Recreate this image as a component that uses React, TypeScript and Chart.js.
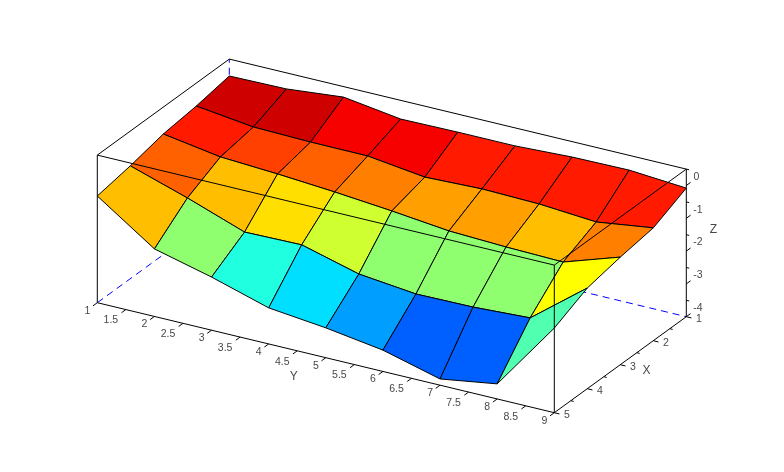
import React, { useEffect, useRef } from "react";
import { Chart, registerables } from "chart.js";

Chart.register(...registerables);

const xValues = [1, 2, 3, 4, 5];
const yValues = [1, 2, 3, 4, 5, 6, 7, 8, 9];

// surface heights, one array per X value, in Y order
const zAtX1 = [-0.015, 0.01, 0.18, -0.07, -0.05, -0.05, 0.03, 0.05, -0.08];
const zAtX2 = [-0.2, -0.42, -0.46, -0.465, -0.69, -0.63, -0.67, -0.8, -0.56];
const zAtX3 = [-0.32, -0.6, -0.7, -0.83, -0.99, -1.18, -1.25, -1.29, -0.72];
const zAtX4 = [-0.56, -1.12, -1.74, -1.71, -2.18, -2.37, -2.35, -2.26, -0.93];
const zAtX5 = [-0.747, -1.94, -2.38, -2.9, -3.09, -3.35, -3.81, -3.54, -1.42];
const zGrid = [zAtX1, zAtX2, zAtX3, zAtX4, zAtX5];

// colour-map index (1..64) of each face, one array per X interval
const cellsX1to2 = [59, 59, 56.5, 56.5, 54.4, 54.4, 54.4, 54.4];
const cellsX2to3 = [54.4, 52, 50, 48, 46, 46, 44, 48];
const cellsX3to4 = [50, 44, 42, 37, 33, 33, 33, 40];
const cellsX4to5 = [44, 33, 26, 22, 18, 14, 14, 29];
const cellGrid = [cellsX1to2, cellsX2to3, cellsX3to4, cellsX4to5];

const xTicks = [1, 2, 3, 4, 5];
const xMinorTicks = [1.5, 2.5, 3.5, 4.5];
const yTicks = [1, 1.5, 2, 2.5, 3, 3.5, 4, 4.5, 5, 5.5, 6, 6.5, 7, 7.5, 8, 8.5, 9];
const zTicks = [-4, -3, -2, -1, 0];
const zMinorTicks = [-3.5, -2.5, -1.5, -0.5, 0.5];

const X_MIN = 1, X_MAX = 5, Y_MIN = 1, Y_MAX = 9, Z_MIN = -4, Z_MAX = 0.5;

// orthographic view of the 3-D box onto the page
function project(x: number, y: number, z: number) {
  return {
    x: 97.3 + (y - 1) * 57.125 + (5 - x) * 33,
    y: 302.7 + (y - 1) * 13.75 - (5 - x) * 24 - (z - Z_MIN) * 32.8,
  };
}

function jet64(n: number) {
  const k = n / 16;
  const c = (v: number) => Math.round(Math.max(0, Math.min(1, v)) * 255);
  const r = c(Math.min(k - 1.5, 4.5 - k));
  const g = c(Math.min(k - 0.5, 3.5 - k));
  const b = c(Math.min(k + 0.5, 2.5 - k));
  return `rgb(${r},${g},${b})`;
}

function polyline(points: number[][], color: string, width: number, order: number, dash: number[] = []) {
  return {
    data: points.map((p) => (p ? project(p[0], p[1], p[2]) : { x: NaN, y: NaN })),
    showLine: true,
    borderColor: color,
    borderWidth: width,
    borderDash: dash,
    pointRadius: 0,
    fill: false,
    tension: 0,
    order,
    clip: false,
  };
}

function buildDatasets() {
  const sets: any[] = [];
  let order = 5000;
  // hidden back edges
  const hidden = [
    [[X_MAX, Y_MIN, Z_MIN], [X_MIN, Y_MIN, Z_MIN]],
    [[X_MIN, Y_MIN, Z_MIN], [X_MIN, Y_MAX, Z_MIN]],
    [[X_MIN, Y_MIN, Z_MIN], [X_MIN, Y_MIN, Z_MAX]],
  ];
  hidden.forEach((h) => sets.push(polyline(h, "#0000ff", 1, order--, [7, 5])));

  // faces, back to front
  for (let i = 0; i < xValues.length - 1; i++) {
    for (let j = 0; j < yValues.length - 1; j++) {
      const corners = [
        [xValues[i], yValues[j], zGrid[i][j]],
        [xValues[i], yValues[j + 1], zGrid[i][j + 1]],
        [xValues[i + 1], yValues[j + 1], zGrid[i + 1][j + 1]],
        [xValues[i + 1], yValues[j], zGrid[i + 1][j]],
        [xValues[i], yValues[j], zGrid[i][j]],
      ];
      sets.push({
        ...polyline(corners, "#000000", 1, order--),
        fill: "shape",
        backgroundColor: jet64(cellGrid[i][j]),
      });
    }
  }

  // box, drawn over the surface
  const top = [
    [X_MAX, Y_MIN, Z_MAX], [X_MIN, Y_MIN, Z_MAX], [X_MIN, Y_MAX, Z_MAX], [X_MAX, Y_MAX, Z_MAX], [X_MAX, Y_MIN, Z_MAX],
  ];
  const bottom = [[X_MAX, Y_MIN, Z_MIN], [X_MAX, Y_MAX, Z_MIN], [X_MIN, Y_MAX, Z_MIN]];
  const verticals = [
    [[X_MAX, Y_MIN, Z_MIN], [X_MAX, Y_MIN, Z_MAX]],
    [[X_MAX, Y_MAX, Z_MIN], [X_MAX, Y_MAX, Z_MAX]],
    [[X_MIN, Y_MAX, Z_MIN], [X_MIN, Y_MAX, Z_MAX]],
  ];
  sets.push(polyline(top, "#000000", 1, order--));
  sets.push(polyline(bottom, "#000000", 1, order--));
  verticals.forEach((v) => sets.push(polyline(v, "#000000", 1, order--)));

  // tick marks
  const marks: any[] = [];
  const add = (a: number[], b: number[]) => marks.push(a, b, null);
  yTicks.forEach((y) => add([X_MAX, y, Z_MIN], [X_MAX + 0.13, y, Z_MIN]));
  xTicks.forEach((x) => add([x, Y_MAX, Z_MIN], [x, Y_MAX + 0.09, Z_MIN]));
  xMinorTicks.forEach((x) => add([x, Y_MAX, Z_MIN], [x, Y_MAX + 0.05, Z_MIN]));
  zTicks.forEach((z) => add([X_MIN, Y_MAX, z], [X_MIN - 0.13, Y_MAX, z]));
  zMinorTicks.forEach((z) => add([X_MIN, Y_MAX, z], [X_MIN, Y_MAX + 0.05, z]));
  sets.push(polyline(marks, "#000000", 1, order--));
  return sets;
}

const TICK_FONT = '10.5px "Liberation Sans", Arial, sans-serif';
const TITLE_FONT = '12px "Liberation Sans", Arial, sans-serif';
const TEXT_COLOR = "#484848";

const axisText = {
  id: "axisText",
  afterDraw(chart: any) {
    const { ctx, scales } = chart;
    const put = (text: string, x: number, y: number, z: number, dx: number, dy: number, font: string) => {
      const p = project(x, y, z);
      ctx.font = font;
      ctx.fillText(text, scales.x.getPixelForValue(p.x) + dx, scales.y.getPixelForValue(p.y) + dy);
    };
    ctx.save();
    ctx.fillStyle = TEXT_COLOR;
    ctx.textAlign = "center";
    ctx.textBaseline = "middle";
    yTicks.forEach((y) => {
      const whole = Number.isInteger(y);
      put(String(y), X_MAX, y, Z_MIN, whole ? -10 : -15, whole ? 8 : 11, TICK_FONT);
    });
    xTicks.forEach((x) => put(String(x), x, Y_MAX, Z_MIN, 12.5, 2, TICK_FONT));
    zTicks.forEach((z) => put(String(z), X_MIN, Y_MAX, z, z === 0 ? 10 : 11.5, -8.5, TICK_FONT));
    put("X", 2.9, Y_MAX, Z_MIN, 23, 8, TITLE_FONT);
    put("Y", X_MAX, 5, Z_MIN, -32, 19, TITLE_FONT);
    put("Z", X_MIN, Y_MAX, -1.35, 27, 0, TITLE_FONT);
    ctx.restore();
  },
};

export default function App() {
  const ref = useRef<HTMLCanvasElement | null>(null);
  useEffect(() => {
    const chart = new Chart(ref.current as HTMLCanvasElement, {
      type: "scatter",
      data: { datasets: buildDatasets() },
      options: {
        animation: false,
        responsive: false,
        layout: { padding: 0 },
        plugins: { legend: { display: false }, tooltip: { enabled: false } },
        events: [],
        scales: {
          x: { type: "linear", min: 0, max: 784, display: false },
          y: { type: "linear", min: 0, max: 472, reverse: true, display: false },
        },
      },
      plugins: [axisText],
    } as any);
    return () => chart.destroy();
  }, []);
  return (
    <div style={{ position: "fixed", left: 0, top: 0, width: 784, height: 472, background: "#ffffff" }}>
      <canvas ref={ref} width={784} height={472} style={{ display: "block" }} />
    </div>
  );
}
